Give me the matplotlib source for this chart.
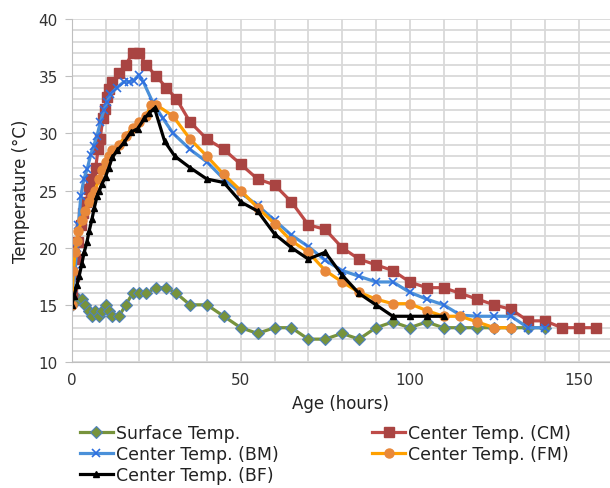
import numpy as np
import matplotlib
matplotlib.use("Agg")
import matplotlib.pyplot as plt
from matplotlib.ticker import MultipleLocator

# ---- data ----
surf_h = [0, 1, 2, 3, 4, 5, 6, 7, 8, 9, 10, 11, 12, 14, 16, 18, 20, 22, 25, 28, 31,
          35, 40, 45, 50, 55, 60, 65, 70, 75, 80, 85, 90, 95, 100, 105, 110, 115,
          120, 125, 130, 135, 140]
surf_t = [15, 15.5, 15.5, 15.5, 15, 14.5, 14, 14.5, 14, 14.5, 15, 14.5, 14, 14, 15, 16,
          16, 16, 16.5, 16.5, 16, 15, 15, 14, 13, 12.5, 13, 13, 12, 12, 12.5, 12, 13,
          13.5, 13, 13.5, 13, 13, 13, 13, 13, 13, 13]

cm_h = [0, 0.7, 1.4, 2, 2.7, 3.4, 4.2, 5.1, 5.8, 7.1, 7.8, 8.4, 9.2, 9.8, 10.4, 11,
        12, 14, 16, 18, 20, 22, 25, 28, 31, 35, 40, 45, 50, 55, 60, 65, 70, 75, 80,
        85, 90, 95, 100, 105, 110, 115, 120, 125, 130, 135, 140, 145, 150, 155]
cm_t = [16, 17.5, 19, 20.5, 22, 23, 24, 25.1, 26, 27, 28.6, 29.5, 31.3, 32.1, 33.2,
        33.9, 34.5, 35.3, 36, 37, 37, 36, 35, 34, 33, 31, 29.5, 28.6, 27.3, 26, 25.5,
        24, 22, 21.6, 20, 19, 18.5, 18, 17, 16.5, 16.5, 16, 15.5, 15, 14.6, 13.6,
        13.6, 13, 13, 13]

bm_h = [0, 0.5, 1, 1.5, 2, 2.7, 3.6, 4.6, 5.6, 6.5, 7.5, 8.5, 9.5, 10.4, 11.4, 13.4,
        15.4, 16.9, 18.3, 19.8, 21.2, 24, 27, 30, 35, 40, 45, 50, 55, 60, 65, 70, 75,
        80, 85, 90, 95, 100, 105, 110, 115, 120, 125, 130, 135, 140]
bm_t = [15, 16.5, 18, 20, 22, 24.5, 26, 26.9, 28.1, 28.9, 29.8, 31, 32, 32.7, 33.4,
        34, 34.5, 34.5, 34.6, 35.1, 34.5, 32.7, 31.3, 30, 28.6, 27.5, 26, 24.8, 23.7,
        22.4, 21.1, 20.1, 18.9, 18, 17.5, 17, 17, 16.1, 15.5, 15, 14.1, 14, 14, 14,
        13, 13]

fm_h = [0, 0.5, 1, 1.5, 2, 3, 4, 5, 6, 7, 8, 9, 10, 11, 12, 14, 16, 18, 20, 22, 23.5,
        25, 30, 35, 40, 45, 50, 55, 60, 65, 70, 75, 80, 85, 90, 95, 100, 105, 110,
        115, 120, 125, 130]
fm_t = [15, 18, 19.6, 20.6, 21.5, 22.4, 23.2, 24, 24.5, 25, 26, 26.8, 27.5, 28, 28.5,
        29, 29.8, 30.5, 31, 31.5, 32.5, 32.5, 31.5, 29.5, 28, 26.4, 25, 23.5, 22.1,
        20.6, 19.6, 18, 17, 16.1, 15.5, 15.1, 15.1, 14.5, 14, 14, 13.5, 13, 13]

bf_h = [0, 0.7, 1.5, 2.2, 3, 3.7, 4.5, 5.2, 6, 6.7, 7.5, 8.2, 9, 10, 11, 12, 13.5,
        15.5, 17.5, 19.5, 21.5, 23, 24.5, 27.5, 30.5, 35, 40, 45, 50, 55, 60, 65, 70,
        75, 80, 85, 90, 95, 100, 105, 110]
bf_t = [15, 15.8, 16.7, 17.5, 18.6, 19.6, 20.5, 21.5, 22.5, 23.5, 24.5, 25, 25.6,
        26.2, 27, 27.9, 28.5, 29.2, 30.1, 30.4, 31.3, 31.8, 32.2, 29.3, 28, 27, 26,
        25.7, 24, 23.2, 21.2, 20, 19, 19.6, 17.6, 16, 15, 14, 14, 14, 14]

plt.rcParams['font.family'] = ['DejaVu Sans']

fig = plt.figure(figsize=(6.1, 4.89), dpi=100)
ax = fig.add_axes([71.7 / 610, 1 - 363 / 489, (610 - 71.7) / 610, 343 / 489])

grid_c = '#d9d9d9'
ax.set_xlim(0, (610 - 71.7) / 3.38)
ax.set_ylim(10, 40)
ax.xaxis.set_major_locator(MultipleLocator(50))
ax.xaxis.set_minor_locator(MultipleLocator(10))
ax.yaxis.set_major_locator(MultipleLocator(5))
ax.yaxis.set_minor_locator(MultipleLocator(1))
ax.grid(which='both', color=grid_c, linewidth=1.3)
ax.set_axisbelow(True)
for s in ['top', 'right']:
    ax.spines[s].set_visible(False)
ax.spines['left'].set_color('#bfbfbf')
ax.spines['bottom'].set_color('#bfbfbf')
ax.tick_params(which='major', axis='y', length=5, color='#bfbfbf', labelsize=11,
               pad=5, labelcolor='#333333')
ax.tick_params(which='major', axis='x', length=0, labelsize=11, pad=7,
               labelcolor='#333333')
ax.tick_params(which='minor', length=0)

lw = 2.3
l_surf, = ax.plot(surf_h, surf_t, color='#77933C', lw=lw, marker='D', ms=6.5,
                  mfc='#77933C', mec='#4F81BD', mew=0.8, label='Surface Temp.')
l_cm, = ax.plot(cm_h, cm_t, color='#BE4B48', lw=lw, marker='s', ms=7,
                mfc='#A94442', mec='#A94442', label='Center Temp. (CM)')
l_bm, = ax.plot(bm_h, bm_t, color='#4A90D9', lw=lw, marker='x', ms=6,
                mec='#2F6FE0', mew=1.2, label='Center Temp. (BM)')
l_fm, = ax.plot(fm_h, fm_t, color='#FFA000', lw=lw, marker='o', ms=6.5,
                mfc='#E8883A', mec='#E8883A', label='Center Temp. (FM)')
l_bf, = ax.plot(bf_h, bf_t, color='black', lw=lw, marker='^', ms=5,
                label='Center Temp. (BF)')

ax.set_ylabel('Temperature (°C)', fontsize=12, labelpad=6, color='#222222')
ax.set_xlabel('Age (hours)', fontsize=12, labelpad=5, color='#222222')

order = [l_surf, l_bm, l_bf, l_cm, l_fm]
fig.legend(order, [l.get_label() for l in order],
           loc='upper left', bbox_to_anchor=(80 / 610, 1 - 425 / 489), ncol=2,
           frameon=False, fontsize=12.5, handlelength=1.9, handletextpad=0.15,
           columnspacing=5.4, labelspacing=0.18, borderaxespad=0, borderpad=0,
           labelcolor='#222222')

fig.savefig('out.png', dpi=100)
